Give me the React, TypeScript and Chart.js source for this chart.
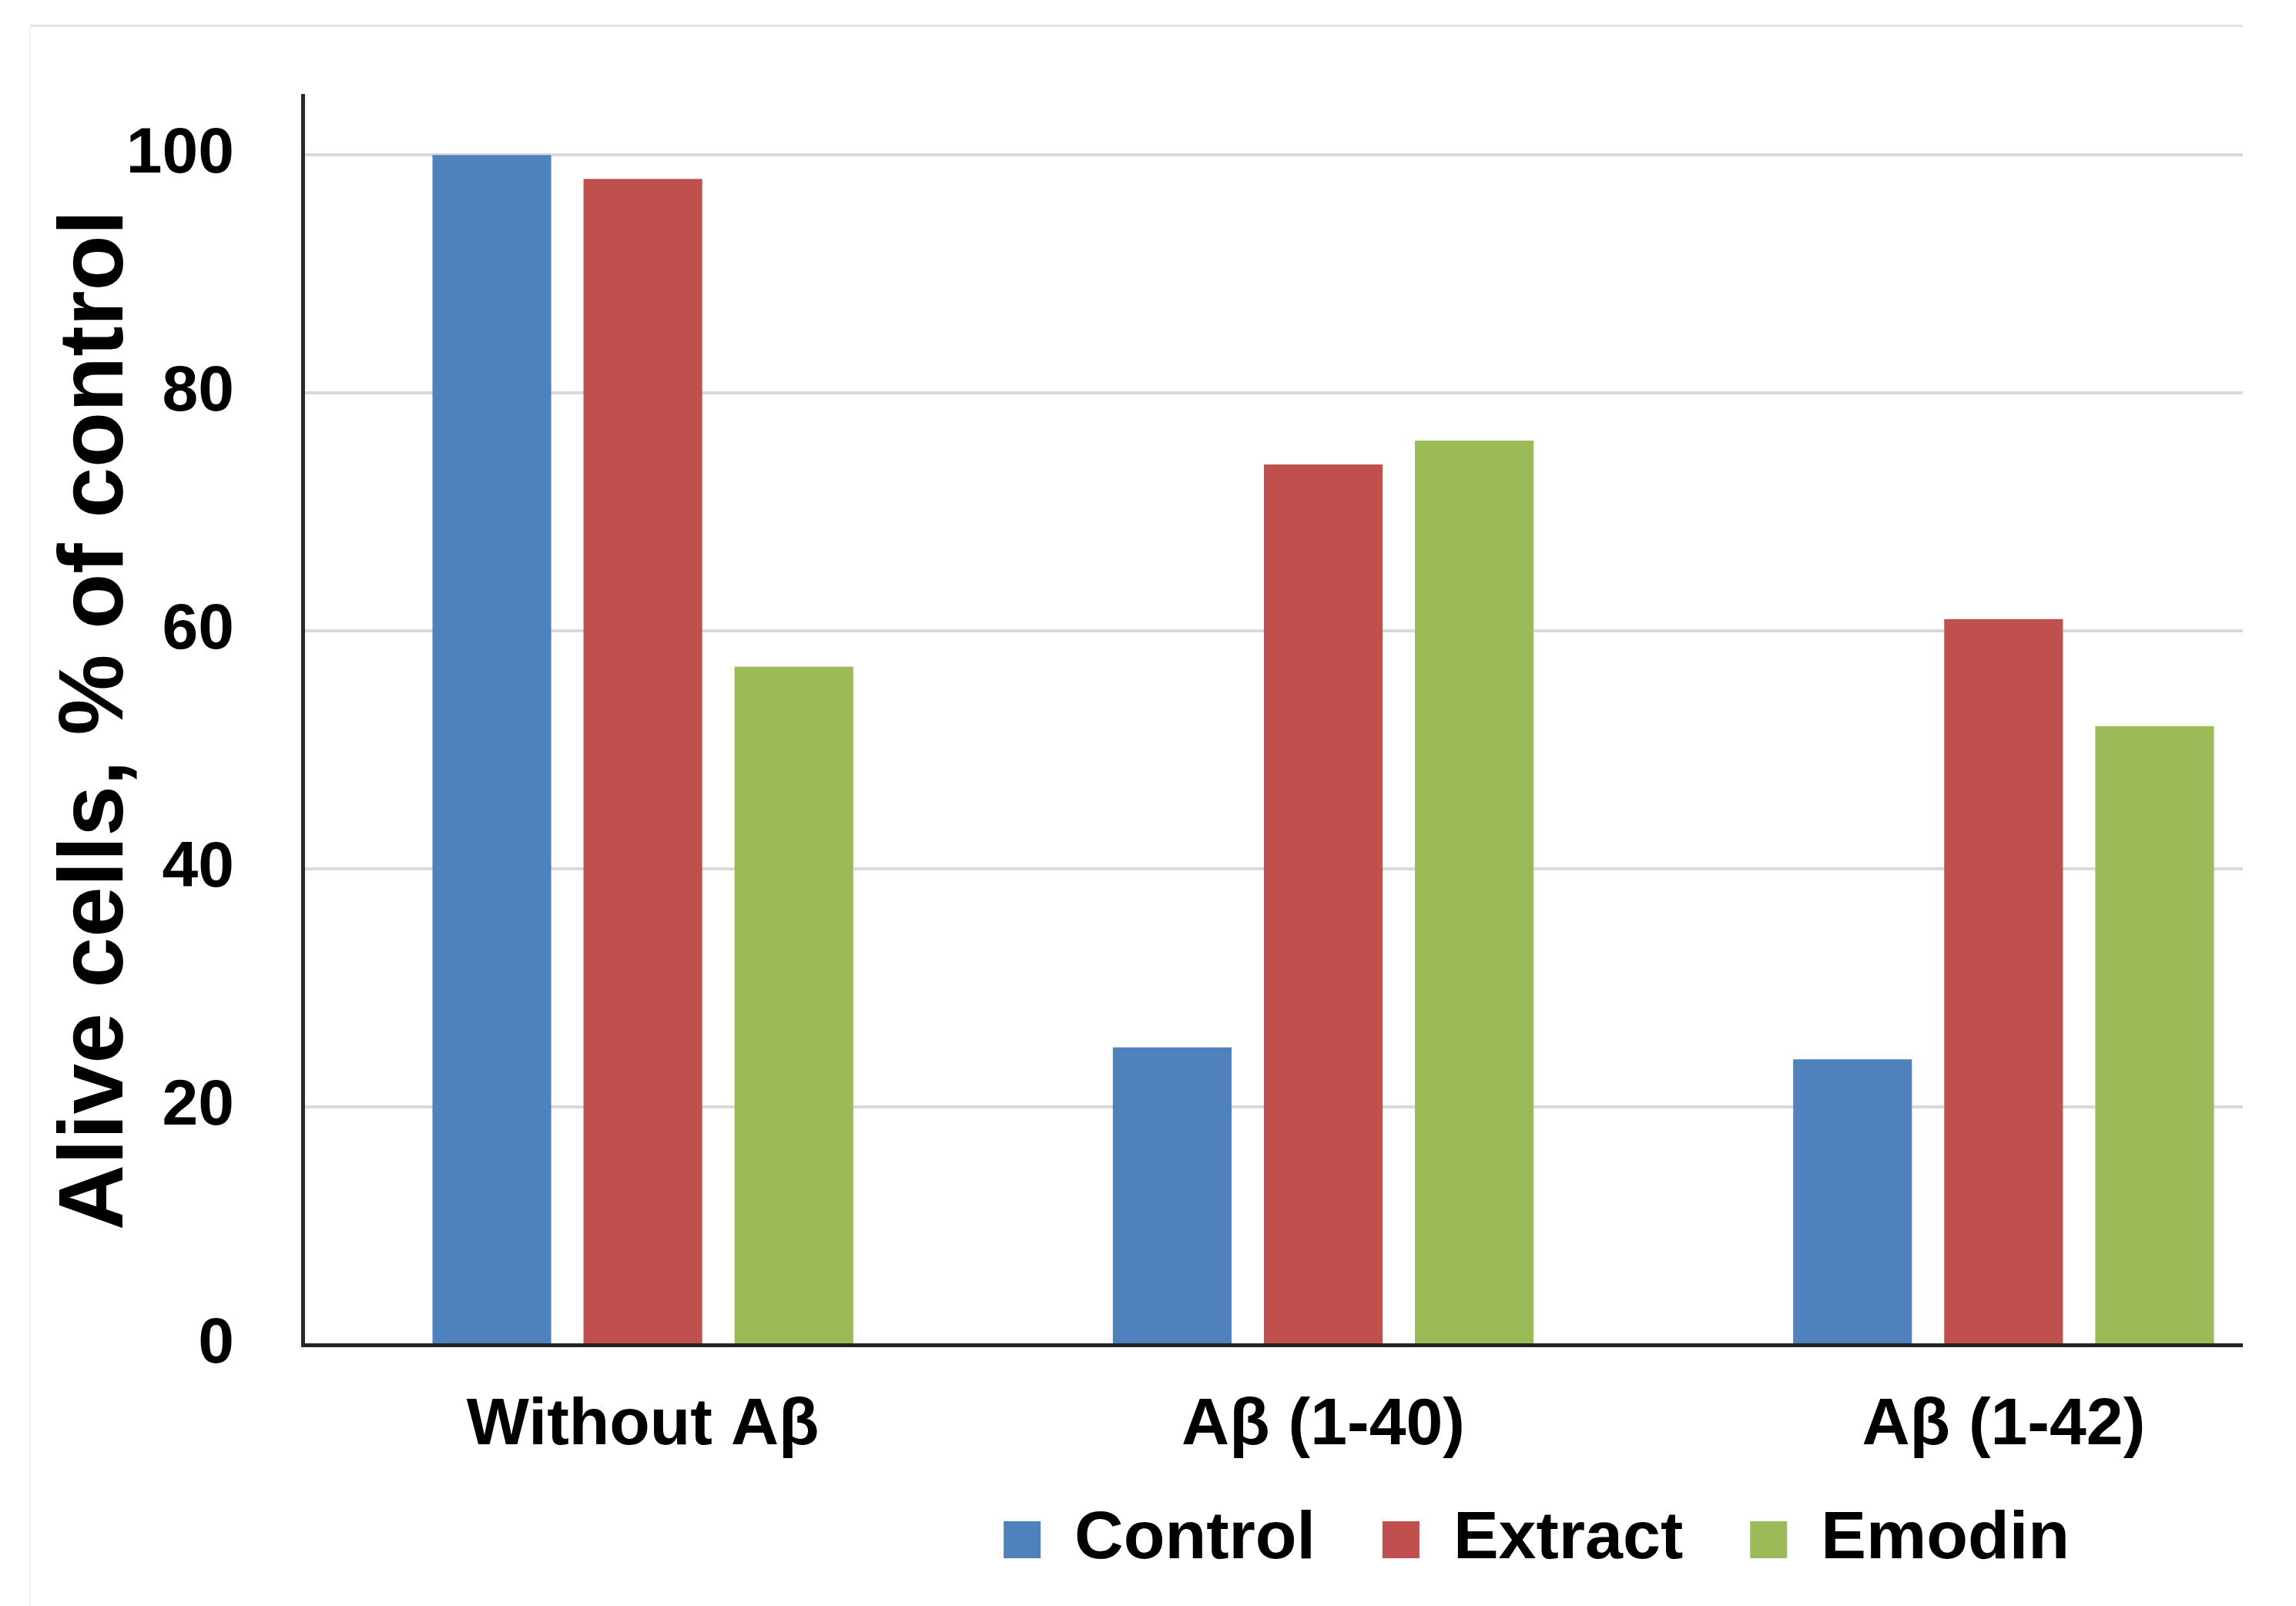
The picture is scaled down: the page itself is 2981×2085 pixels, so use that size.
import { useEffect, useRef } from 'react';
import { Chart, registerables } from 'chart.js';

Chart.register(...registerables);

const categories = ['Without Aβ', 'Aβ (1-40)', 'Aβ (1-42)'];
const seriesNames = ['Control', 'Extract', 'Emodin'];
const controlValues = [100, 25, 24];
const extractValues = [98, 74, 61];
const emodinValues = [57, 76, 52];
const seriesColors = ['#4F81BD', '#C0504D', '#9BBB59'];
const yTickValues = [0, 20, 40, 60, 80, 100];
const yMin = 0;
const yMax = 105;
const yTitle = 'Alive cells, % of control';

const FONT = '"Liberation Sans", Arial, Helvetica, sans-serif';

const legendShift = {
  id: 'legendShift',
  afterLayout(chart: any) {
    if (chart.legend) {
      chart.legend.top -= 43;
      chart.legend.bottom -= 43;
    }
  },
};

export default function App() {
  const ref = useRef<HTMLCanvasElement>(null);

  useEffect(() => {
    const canvas = ref.current;
    if (!canvas) return;
    const seriesValues = [controlValues, extractValues, emodinValues];
    const chart = new Chart(canvas, {
      type: 'bar',
      data: {
        labels: categories,
        datasets: seriesNames.map((name, i) => ({
          label: name,
          data: seriesValues[i],
          backgroundColor: seriesColors[i],
          borderWidth: 0,
          barPercentage: 0.786,
          categoryPercentage: 0.666,
          yAxisID: 'y',
        })),
      },
      plugins: [legendShift],
      options: {
        responsive: false,
        animation: false,
        devicePixelRatio: 1,
        layout: { padding: { left: 0, right: 0, top: 124, bottom: 14 } },
        plugins: {
          tooltip: { enabled: false },
          legend: {
            display: true,
            position: 'bottom',
            align: 'center',
            labels: {
              boxWidth: 48,
              boxHeight: 48,
              padding: 87,
              color: '#000',
              font: { family: FONT, size: 88, weight: 'bold' },
            },
          },
        },
        scales: {
          x: {
            type: 'category',
            grid: { display: false, drawTicks: false },
            border: { display: true, color: '#222', width: 5 },
            ticks: {
              color: '#000',
              padding: 54,
              maxRotation: 0,
              font: { family: FONT, size: 86, weight: 'bold' },
            },
            afterFit: (s: any) => {
              s.height = 165;
            },
          },
          y: {
            type: 'linear',
            position: 'left',
            min: yMin,
            max: yMax,
            grid: { color: '#d9d9d9', lineWidth: 4, drawTicks: false },
            border: { display: true, color: '#2a2a2a', width: 5 },
            ticks: {
              color: '#000',
              padding: 89,
              stepSize: 20,
              font: { family: FONT, size: 84, weight: 'bold', lineHeight: 0.8 },
            },
            afterBuildTicks: (s: any) => {
              s.ticks = yTickValues.map((v) => ({ value: v }));
            },
            title: {
              display: true,
              text: yTitle,
              color: '#000',
              padding: { top: 56, bottom: 0 },
              font: { family: FONT, size: 118, weight: 'bold' },
            },
            afterFit: (s: any) => {
              s.width = 393;
            },
          },
          yRight: {
            type: 'linear',
            position: 'right',
            display: true,
            grid: { display: false, drawTicks: false },
            border: { display: false },
            ticks: { display: false },
            afterFit: (s: any) => {
              s.width = 947;
            },
          },
        },
      },
    });
    return () => chart.destroy();
  }, []);

  return (
    <div
      style={{
        position: 'absolute',
        left: 0,
        top: 0,
        width: 2981,
        height: 2085,
        background: '#fff',
        overflow: 'hidden',
      }}
    >
      <div
        style={{
          position: 'absolute',
          left: 38,
          top: 32,
          width: 2874,
          height: 3,
          background: '#e2e2e2',
        }}
      />
      <div
        style={{
          position: 'absolute',
          left: 38,
          top: 32,
          width: 2,
          height: 2053,
          background: '#f1f1f1',
        }}
      />
      <div
        style={{
          position: 'absolute',
          left: 0,
          top: 0,
          width: 2912,
          height: 2085,
          overflow: 'hidden',
        }}
      >
        <canvas
          ref={ref}
          width={3990}
          height={2110}
          style={{ display: 'block', width: 3990, height: 2110 }}
        />
      </div>
    </div>
  );
}
